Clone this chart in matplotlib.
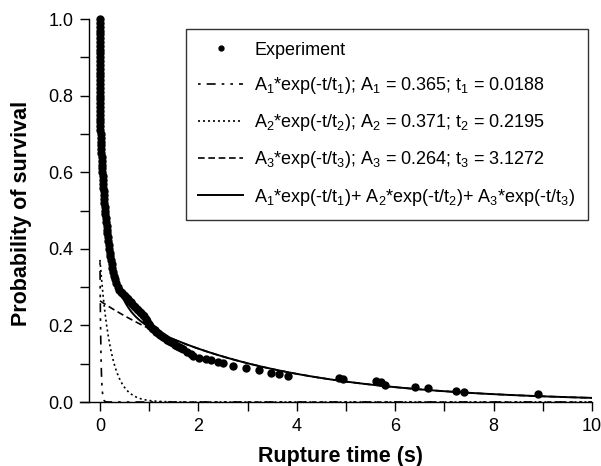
import numpy as np
import matplotlib
matplotlib.use("Agg")
import matplotlib.pyplot as plt

plt.rcParams['font.family'] = ['Liberation Sans', 'DejaVu Sans']
plt.rcParams['mathtext.fontset'] = 'custom'
plt.rcParams['mathtext.rm'] = 'Liberation Sans'
plt.rcParams['mathtext.default'] = 'regular'

# ---------- experimental survival data (read off the picture) ----------
# steep part right after t = 0
steep_t = [0.000, 0.000, 0.000, 0.000, 0.001, 0.001, 0.001, 0.001, 0.002, 0.002,
           0.002, 0.002, 0.003, 0.003, 0.003, 0.004, 0.004, 0.004, 0.005, 0.005,
           0.005, 0.006, 0.006, 0.007, 0.007, 0.008, 0.008, 0.009, 0.009, 0.010,
           0.011, 0.014, 0.018, 0.022, 0.026, 0.030, 0.034, 0.037, 0.041, 0.045,
           0.049, 0.053, 0.057, 0.062, 0.067, 0.072, 0.077, 0.083, 0.090, 0.097,
           0.104, 0.111, 0.118, 0.126, 0.134, 0.142, 0.151, 0.160, 0.170, 0.180,
           0.190, 0.200, 0.212, 0.225, 0.238, 0.252, 0.268, 0.285, 0.305, 0.330,
           0.360]
steep_p = [1.00, 0.99, 0.98, 0.97, 0.96, 0.95, 0.94, 0.93, 0.92, 0.91,
           0.90, 0.89, 0.88, 0.87, 0.86, 0.85, 0.84, 0.83, 0.82, 0.81,
           0.80, 0.79, 0.78, 0.77, 0.76, 0.75, 0.74, 0.73, 0.72, 0.71,
           0.70, 0.69, 0.68, 0.67, 0.66, 0.65, 0.64, 0.63, 0.62, 0.61,
           0.60, 0.59, 0.58, 0.57, 0.56, 0.55, 0.54, 0.53, 0.52, 0.51,
           0.50, 0.49, 0.48, 0.47, 0.46, 0.45, 0.44, 0.43, 0.42, 0.41,
           0.40, 0.39, 0.38, 0.37, 0.36, 0.35, 0.34, 0.33, 0.32, 0.31,
           0.30]
# knee of the curve
knee_t = [0.39, 0.42, 0.45, 0.48, 0.51, 0.54, 0.57, 0.60, 0.63, 0.66,
          0.69, 0.72, 0.75, 0.78, 0.81, 0.84, 0.87, 0.90, 0.93, 0.96,
          0.99, 1.02, 1.05, 1.08, 1.11, 1.14, 1.17, 1.20, 1.23, 1.26,
          1.29, 1.32, 1.36, 1.40, 1.44, 1.48, 1.52, 1.56, 1.60, 1.64,
          1.68]
knee_p = [0.293, 0.288, 0.284, 0.280, 0.276, 0.272, 0.268, 0.264, 0.260, 0.256,
          0.252, 0.248, 0.244, 0.240, 0.236, 0.232, 0.228, 0.224, 0.218, 0.211,
          0.204, 0.198, 0.193, 0.190, 0.187, 0.184, 0.181, 0.178, 0.175, 0.172,
          0.169, 0.166, 0.162, 0.159, 0.156, 0.153, 0.150, 0.147, 0.144, 0.141,
          0.138]
# sparse tail
tail_t = [1.76, 1.84, 1.90, 2.02, 2.15, 2.26, 2.40, 2.50, 2.70, 2.97,
          3.24, 3.47, 3.64, 3.83, 4.85, 4.93, 5.61, 5.71, 5.80, 6.41,
          6.67, 7.24, 7.40, 8.91]
tail_p = [0.131, 0.125, 0.121, 0.116, 0.113, 0.110, 0.104, 0.101, 0.094, 0.088,
          0.083, 0.077, 0.073, 0.068, 0.064, 0.060, 0.056, 0.051, 0.045, 0.040,
          0.036, 0.029, 0.026, 0.021]

exp_t = steep_t + knee_t + tail_t
exp_p = steep_p + knee_p + tail_p

# ---------- fitted three-exponential parameters (from legend) ----------
amps = [0.365, 0.371, 0.264]
taus = [0.0188, 0.2195, 3.1272]

labels = [
    'Experiment',
    r'A$_1$*exp(-t/t$_1$); A$_1$ = 0.365; t$_1$ = 0.0188',
    r'A$_2$*exp(-t/t$_2$); A$_2$ = 0.371; t$_2$ = 0.2195',
    r'A$_3$*exp(-t/t$_3$); A$_3$ = 0.264; t$_3$ = 3.1272',
    r'A$_1$*exp(-t/t$_1$)+ A$_2$*exp(-t/t$_2$)+ A$_3$*exp(-t/t$_3$)',
]

fig = plt.figure(figsize=(6.01, 4.66), dpi=100)
ax = fig.add_axes([0.1336, 0.1373, 0.8514, 0.8219])

t = np.linspace(0, 10, 4000)
comps = [a * np.exp(-t / tau) for a, tau in zip(amps, taus)]
total = comps[0] + comps[1] + comps[2]

h_exp, = ax.plot(exp_t, exp_p, 'o', color='black', ms=5.0, mec='black',
                 clip_on=False, zorder=3)
h1, = ax.plot(t, comps[0], color='black', lw=1.2,
              ls=(14.2, (5.4, 3.6, 1.6, 3.6, 1.6, 3.6)))
h2, = ax.plot(t, comps[1], color='black', lw=1.2, ls=(0, (1.2, 1.8)))
h3, = ax.plot(t, comps[2], color='black', lw=1.2, ls=(0, (4.0, 2.2)))
h4, = ax.plot(t, total, color='black', lw=1.4)

ax.set_xlim(-0.4, 10)
ax.set_ylim(0, 1.0)
ax.spines['top'].set_visible(False)
ax.spines['right'].set_visible(False)
ax.spines['left'].set_position(('data', -0.22))
ax.spines['left'].set_bounds(0, 1.0)
for s in ('left', 'bottom'):
    ax.spines[s].set_linewidth(1.0)

ax.set_xticks(np.arange(0, 11, 1))
ax.set_xticklabels(['0', '', '2', '', '4', '', '6', '', '8', '', '10'])
ax.set_yticks(np.arange(0, 1.01, 0.1))
ax.set_yticklabels(['0.0', '', '0.2', '', '0.4', '', '0.6', '', '0.8', '', '1.0'])
ax.tick_params(direction='out', length=6.5, width=1.0, labelsize=13, pad=5)

ax.set_xlabel('Rupture time (s)', fontsize=15.5, fontweight='bold', va='center')
ax.xaxis.set_label_coords(0.508, -0.141)
ax.set_ylabel('Probability of survival', fontsize=15.5, fontweight='bold', va='center')
ax.yaxis.set_label_coords(-0.114, 0.493)

leg = ax.legend([h_exp, h1, h2, h3, h4], labels, loc='upper right',
                bbox_to_anchor=(588 / 601, 1 - 29 / 466),
                bbox_transform=fig.transFigure, borderaxespad=0,
                fontsize=13, frameon=True, fancybox=False, edgecolor='black',
                handlelength=2.5, handletextpad=0.6, labelspacing=0.9,
                borderpad=0.7, numpoints=1, markerscale=0.7)
leg.get_frame().set_linewidth(1.0)

fig.savefig('out.png', dpi=100)
